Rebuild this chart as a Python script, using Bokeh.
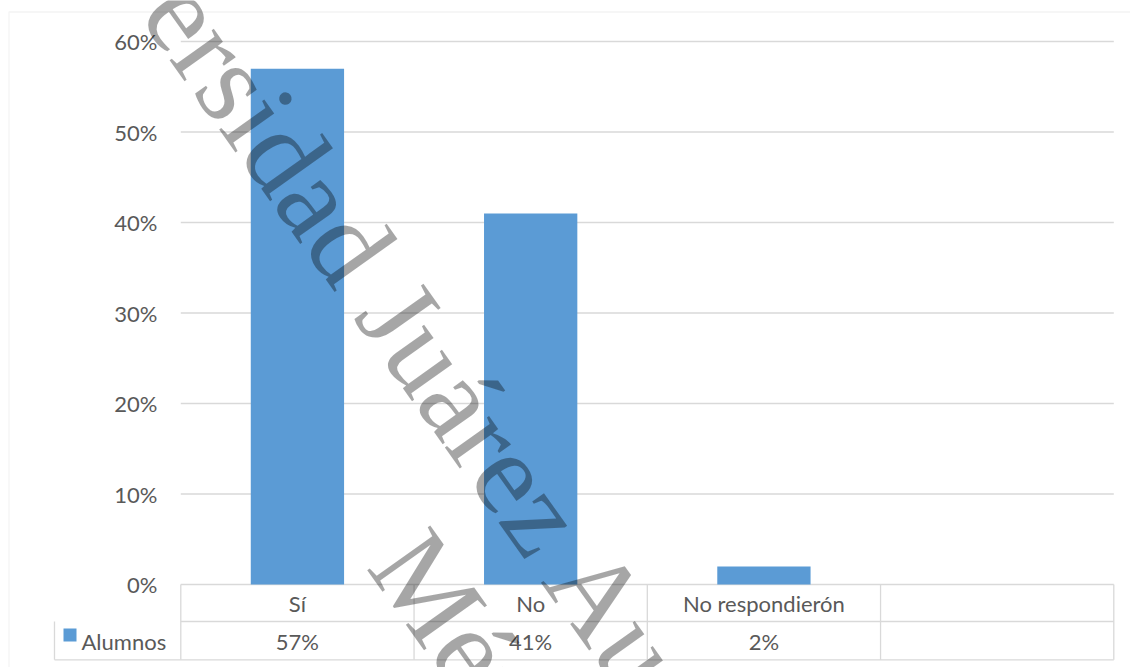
from bokeh.plotting import figure
from bokeh.models import (Range1d, FixedTicker, NumeralTickFormatter,
                          Label, PolyAnnotation, ColumnDataSource)
from bokeh.core.properties import value
from bokeh.embed import file_html
from bokeh.resources import INLINE

# ---------------- data ----------------
categories = ["Sí", "No", "No respondierón", ""]
alumnos = [0.57, 0.41, 0.02]
series_name = "Alumnos"
y_ticks = [0, 0.1, 0.2, 0.3, 0.4, 0.5, 0.6]
watermark_lines = ["Universidad Juárez Autónoma de Tabasco.", "México."]

# ---------------- style ----------------
BLUE = "#5B9BD5"
GRID = "#D9D9D9"
TEXT = "#595959"
FONT = "Lato"
FSIZE = "22px"

W, H = 1130, 667
PPU_Y = 905.0     # px per unit on y
PPU_X = 233.25    # px per category
X0 = 180.3        # canvas x of left edge of first category
Y0 = 584.0        # canvas y of 0 %


def px(cx):
    return (cx - X0) / PPU_X


def py(cy):
    return (Y0 - cy) / PPU_Y


ROW_MID = py(621)
ROW_BOT = py(659.3)
CAT_Y = py(602.5)
VAL_Y = py(640.5)

n = len(categories)
cat_x = [i + 0.5 for i in range(n)]

p = figure(width=W, height=H,
           x_range=Range1d(px(0), px(W)), y_range=Range1d(py(H), py(0)),
           output_backend="svg", toolbar_location=None,
           min_border_left=0, min_border_right=0, min_border_top=0, min_border_bottom=0)

p.outline_line_color = None
p.background_fill_color = "white"
p.border_fill_color = "white"

src = ColumnDataSource(dict(x=cat_x[:len(alumnos)], val=alumnos,
                            lab=[f"{round(v * 100)}%" for v in alumnos]))
p.vbar(x="x", top="val", width=0.4, source=src, fill_color=BLUE, line_color=None, level="glyph")

# gridlines across the plot area only
p.xaxis.visible = False
p.xgrid.visible = False
p.ygrid.visible = False
p.segment(x0=[0] * len(y_ticks), x1=[n] * len(y_ticks), y0=y_ticks, y1=y_ticks,
          line_color=GRID, line_width=1.3, level="underlay")

# y axis (labels pushed inside)
p.yaxis.ticker = FixedTicker(ticks=y_ticks)
p.yaxis.formatter = NumeralTickFormatter(format="0%")
p.yaxis.axis_line_color = None
p.yaxis.major_tick_line_color = None
p.yaxis.minor_tick_line_color = None
p.yaxis.major_tick_out = 0
p.yaxis.major_tick_in = 0
p.yaxis.major_label_standoff = -157
p.yaxis.major_label_text_font = FONT
p.yaxis.major_label_text_font_size = FSIZE
p.yaxis.major_label_text_color = TEXT

# data table
p.segment(x0=[0, px(54)], x1=[n, n], y0=[ROW_MID, ROW_BOT], y1=[ROW_MID, ROW_BOT],
          line_color=GRID, line_width=1.3)
vx = list(range(n + 1))
p.segment(x0=vx, x1=vx, y0=[0] * (n + 1), y1=[ROW_BOT] * (n + 1),
          line_color=GRID, line_width=1.3)
p.segment(x0=[px(54)], x1=[px(54)], y0=[ROW_MID], y1=[ROW_BOT], line_color=GRID, line_width=1.3)
p.text(x=cat_x, y=[CAT_Y] * n, text=categories, text_align="center",
       text_baseline="middle", text_font=value(FONT), text_font_size=FSIZE, text_color=TEXT)
p.text(x="x", y=VAL_Y, text="lab", source=src, text_align="center",
       text_baseline="middle", text_font=value(FONT), text_font_size=FSIZE, text_color=TEXT)

# legend key + series name
p.add_layout(PolyAnnotation(xs=[px(63), px(76), px(76), px(63)],
                            ys=[py(628), py(628), py(641), py(641)],
                            fill_color=BLUE, fill_alpha=1, line_color=None))
p.add_layout(Label(x=px(81), y=VAL_Y, text=series_name, text_align="left",
                   text_baseline="middle", text_font=FONT, text_font_size=FSIZE,
                   text_color=TEXT))

# outer chart border
p.add_layout(PolyAnnotation(xs=[px(8.5), px(1500), px(1500), px(8.5)],
                            ys=[py(11.5), py(11.5), py(900), py(900)],
                            fill_alpha=0, line_color=GRID, line_width=1.3))

# watermark
ANG = -0.953
for txt, (cx, cy) in zip(watermark_lines, [(618.0, 623.0), (510.0, 703.0)]):
    p.add_layout(Label(x=px(cx), y=py(cy), text=txt, angle=ANG, text_align="center",
                       text_baseline="alphabetic", text_font="Liberation Serif",
                       text_font_size="118px", text_color="black", text_alpha=0.35))

open("out.html", "w").write(file_html(p, INLINE))
